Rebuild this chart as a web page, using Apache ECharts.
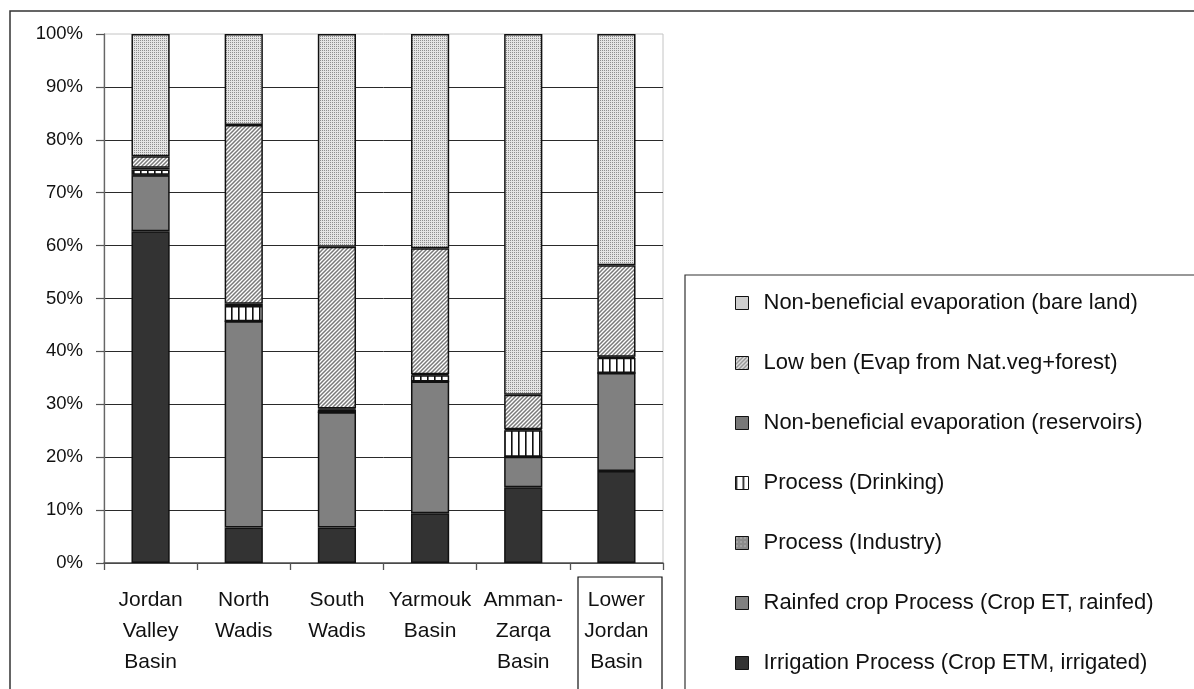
<!DOCTYPE html>
<html>
<head>
<meta charset="utf-8">
<script src="https://cdn.jsdelivr.net/npm/echarts@6/dist/echarts.min.js"></script>
<style>
  html, body { margin: 0; padding: 0; background: #fff; }
  #chart { width: 1194px; height: 689px; }
</style>
</head>
<body>
<div id="chart"></div>
<script>
// ---- data ----
const categories = ['Jordan\nValley\nBasin', 'North\nWadis', 'South\nWadis', 'Yarmouk\nBasin', 'Amman-\nZarqa\nBasin', 'Lower\nJordan\nBasin'];
const yTicks = [0, 10, 20, 30, 40, 50, 60, 70, 80, 90, 100];
const irrigation = [62.7, 6.7, 6.7, 9.4, 14.3, 17.4];
const rainfed = [10.6, 39.0, 21.8, 24.9, 5.8, 18.5];
const industry = [0.1, 0.0, 0.0, 0.0, 0.0, 0.0];
const drinking = [1.0, 2.9, 0.5, 1.2, 5.0, 2.9];
const reservoirs = [0.3, 0.4, 0.2, 0.2, 0.2, 0.2];
const lowBen = [2.2, 33.8, 30.6, 23.8, 6.5, 17.3];
const bareLand = [23.1, 17.2, 40.2, 40.5, 68.2, 43.7];
const seriesNames = [
  'Irrigation Process (Crop ETM, irrigated)',
  'Rainfed crop Process (Crop ET, rainfed)',
  'Process (Industry)',
  'Process (Drinking)',
  'Non-beneficial evaporation (reservoirs)',
  'Low ben (Evap from Nat.veg+forest)',
  'Non-beneficial evaporation (bare land)'
];

// ---- patterns ----
function tile(w, h, draw) {
  const c = document.createElement('canvas');
  c.width = w; c.height = h;
  const ctx = c.getContext('2d');
  draw(ctx);
  return { image: c, repeat: 'repeat' };
}
const patBare = tile(2, 2, ctx => {
  ctx.fillStyle = '#e4e4e4'; ctx.fillRect(0, 0, 2, 2);
  ctx.fillStyle = '#8e8e8e'; ctx.fillRect(0, 0, 1, 1);
});
const patLow = tile(4, 4, ctx => {
  ctx.fillStyle = '#ffffff'; ctx.fillRect(0, 0, 4, 4);
  ctx.strokeStyle = '#7a7a7a'; ctx.lineWidth = 1.5;
  ctx.beginPath();
  ctx.moveTo(-1, 5); ctx.lineTo(5, -1);
  ctx.moveTo(-1, 1); ctx.lineTo(1, -1);
  ctx.moveTo(3, 5); ctx.lineTo(5, 3);
  ctx.stroke();
});
const patRes = tile(2, 2, ctx => {
  ctx.fillStyle = '#cfcfcf'; ctx.fillRect(0, 0, 2, 2);
  ctx.fillStyle = '#222'; ctx.fillRect(0, 0, 1, 1); ctx.fillRect(1, 1, 1, 1);
});
const patDrink = tile(7, 2, ctx => {
  ctx.fillStyle = '#ffffff'; ctx.fillRect(0, 0, 7, 2);
  ctx.fillStyle = '#111'; ctx.fillRect(0, 0, 1.6, 2);
});
const patInd = tile(4, 4, ctx => {
  ctx.fillStyle = '#8c8c8c'; ctx.fillRect(0, 0, 4, 4);
  ctx.fillStyle = '#e0e0e0'; ctx.fillRect(1, 1, 1, 1);
});
const fills = ['#333333', '#808080', patInd, patDrink, patRes, patLow, patBare];
const values = [irrigation, rainfed, industry, drinking, reservoirs, lowBen, bareLand];

const font = "'Liberation Sans', Arial, sans-serif";
const chart = echarts.init(document.getElementById('chart'), null, { renderer: 'canvas' });

const series = seriesNames.map((name, i) => ({
  name,
  type: 'bar',
  stack: 'total',
  barWidth: '41%',
  data: values[i],
  itemStyle: { color: fills[i], borderColor: '#111', borderWidth: 1.5 },
  emphasis: { disabled: true }
}));

chart.setOption({
  animation: false,
  backgroundColor: '#fff',
  textStyle: { fontFamily: font },
  grid: {
    left: 104, right: 531, top: 34, bottom: 126,
    show: true, borderColor: '#c4c4c4', borderWidth: 1, backgroundColor: 'transparent'
  },
  xAxis: {
    type: 'category',
    data: categories,
    axisLine: { lineStyle: { color: '#555', width: 1.5 } },
    axisTick: { show: true, length: 7, lineStyle: { color: '#555', width: 1.3 } },
    axisLabel: { color: '#111', fontSize: 21, lineHeight: 31, margin: 22, fontFamily: font, interval: 0 }
  },
  yAxis: {
    type: 'value',
    min: yTicks[0], max: yTicks[yTicks.length - 1], interval: 10,
    axisLine: { show: true, lineStyle: { color: '#666', width: 1.3 } },
    axisTick: { show: true, length: 8, lineStyle: { color: '#555', width: 1.2 } },
    axisLabel: { color: '#111', fontSize: 18.5, margin: 21, fontFamily: font, formatter: '{value}%' },
    splitLine: { show: true, showMaxLine: false, lineStyle: { color: '#2a2a2a', width: 1 } }
  },
  legend: {
    orient: 'vertical',
    left: 685, top: 275,
    data: seriesNames.slice().reverse(),
    icon: 'rect',
    itemWidth: 13, itemHeight: 13,
    itemGap: 34,
    padding: [15, 10, 0, 50],
    selectedMode: false,
    itemStyle: { borderColor: '#111', borderWidth: 1 },
    textStyle: { fontSize: 22, lineHeight: 26, color: '#111', fontFamily: font, padding: [0, 0, 0, 10] }
  },
  graphic: [
    { type: 'rect', silent: true, z: -10, shape: { x: 10, y: 11, width: 1300, height: 800 },
      style: { fill: 'none', stroke: '#333', lineWidth: 1.5 } },
    { type: 'rect', silent: true, z: -5, shape: { x: 685, y: 275, width: 700, height: 500 },
      style: { fill: 'none', stroke: '#333', lineWidth: 1.2 } },
    { type: 'rect', silent: true, z: 10, shape: { x: 578, y: 577, width: 84, height: 200 },
      style: { fill: 'none', stroke: '#111', lineWidth: 1.2 } }
  ],
  series
});
</script>
</body>
</html>
